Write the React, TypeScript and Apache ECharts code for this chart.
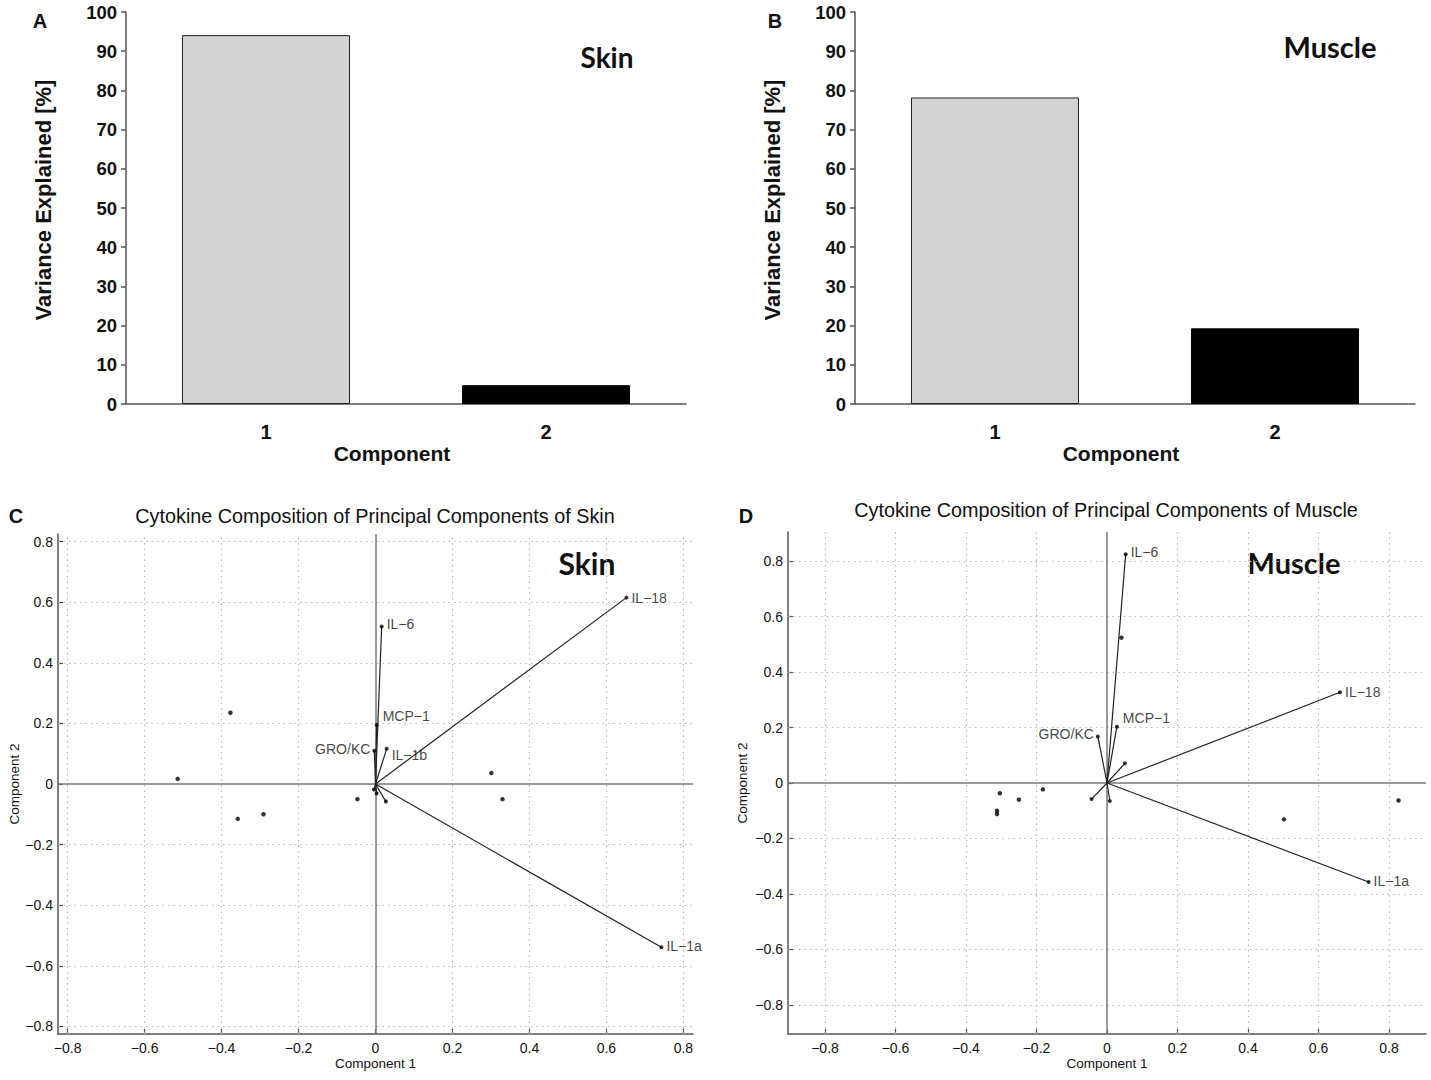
import React, { useEffect, useRef } from "react";
import * as echarts from "echarts";

const components = ["1", "2"];
const skinVariance = [94.1, 4.8];
const muscleVariance = [78.2, 19.3];

const biplotTicks = [-0.8, -0.6, -0.4, -0.2, 0, 0.2, 0.4, 0.6, 0.8];

const skinLoadingNames = ["IL-18", "IL-1a", "IL-6", "MCP-1", "GRO/KC", "IL-1b", "", "", ""];
const skinLoadingX = [0.652, 0.743, 0.016, 0.003, -0.003, 0.029, 0.003, 0.027, -0.004];
const skinLoadingY = [0.615, -0.539, 0.52, 0.195, 0.11, 0.116, -0.031, -0.058, -0.018];
const skinScoreX = [-0.377, -0.514, -0.358, -0.291, -0.047, 0.301, 0.33];
const skinScoreY = [0.235, 0.017, -0.115, -0.1, -0.05, 0.036, -0.05];

const muscleLoadingNames = ["IL-6", "MCP-1", "GRO/KC", "IL-18", "IL-1a", "", "", ""];
const muscleLoadingX = [0.053, 0.028, -0.026, 0.661, 0.742, 0.051, -0.044, 0.008];
const muscleLoadingY = [0.825, 0.203, 0.168, 0.327, -0.357, 0.071, -0.058, -0.065];
const muscleScoreX = [0.041, 0.502, 0.827, -0.304, -0.25, -0.312, -0.312, -0.182];
const muscleScoreY = [0.524, -0.131, -0.063, -0.037, -0.06, -0.1, -0.112, -0.023];

const SANS = "Liberation Sans, Arial, Helvetica, sans-serif";
const CAL = "Lato, 'Open Sans', sans-serif";
const AXIS_COLOR = "#555";

const fmtTick = (v: number) => {
  if (Math.abs(v) < 1e-9) return "0";
  const s = Math.abs(v).toFixed(1);
  return v < 0 ? "\u2212" + s : s;
};

const labelCfg: Record<string, any> = {
  "IL-18": { position: "right", offset: [0, 0] },
  "IL-1a": { position: "right", offset: [0, -1] },
  "IL-6": { position: "right", offset: [0, -2] },
  "MCP-1": { position: "right", offset: [1, -9] },
  "GRO/KC": { position: "left", offset: [1, -2] },
  "IL-1b": { position: "right", offset: [0, 6] },
};

function barAxes(gridIndex: number) {
  const x = {
    type: "category",
    gridIndex,
    data: components,
    name: "Component",
    nameLocation: "middle",
    nameGap: 29,
    nameTextStyle: { fontFamily: SANS, fontWeight: "bold", fontSize: 21, color: "#111", padding: [0, 28, 0, 0] },
    axisLine: { show: true, lineStyle: { color: AXIS_COLOR, width: 1.5 } },
    axisTick: { show: false },
    axisLabel: { fontFamily: SANS, fontWeight: "bold", fontSize: 20, color: "#111", margin: 18 },
    splitLine: { show: false },
  };
  const y = {
    type: "value",
    gridIndex,
    min: 0,
    max: 100,
    interval: 10,
    name: "Variance Explained [%]",
    nameLocation: "middle",
    nameGap: 72,
    nameRotate: 90,
    nameTextStyle: { fontFamily: SANS, fontWeight: "bold", fontSize: 22, color: "#111", padding: [0, 0, 0, 16] },
    axisLine: { show: true, lineStyle: { color: AXIS_COLOR, width: 1.5 } },
    axisTick: { show: true, inside: false, length: 5, lineStyle: { color: AXIS_COLOR, width: 1.5 } },
    axisLabel: { fontFamily: SANS, fontWeight: "bold", fontSize: 18.5, color: "#111", margin: 9 },
    splitLine: { show: false },
  };
  return { x, y };
}

function biAxes(gridIndex: number, range: number, yGap: number) {
  const common = {
    type: "value",
    gridIndex,
    min: -range,
    max: range,
    nameLocation: "middle",
    nameTextStyle: { fontFamily: SANS, fontSize: 13.5, color: "#111" },
    axisLine: { show: true, onZero: false, lineStyle: { color: AXIS_COLOR, width: 1.5 } },
    axisTick: { show: true, inside: true, length: 5, customValues: biplotTicks, lineStyle: { color: AXIS_COLOR, width: 1.2 } },
    axisLabel: {
      customValues: biplotTicks,
      formatter: (v: number) => fmtTick(v),
      fontFamily: SANS,
      fontSize: 14,
      color: "#111",
    },
    splitLine: { show: false },
  };
  const x = { ...common, name: "Component 1", nameGap: 22, axisLabel: { ...common.axisLabel, margin: 7 } };
  const y = { ...common, name: "Component 2", nameGap: yGap, nameRotate: 90, axisLabel: { ...common.axisLabel, margin: 5 } };
  return { x, y };
}

function biSeries(
  idx: number,
  names: string[],
  lx: number[],
  ly: number[],
  sx: number[],
  sy: number[]
) {
  const gridLines = [
    ...biplotTicks.filter((v) => Math.abs(v) > 1e-9).map((v) => ({ xAxis: v })),
    ...biplotTicks.filter((v) => Math.abs(v) > 1e-9).map((v) => ({ yAxis: v })),
  ];
  return [
    {
      type: "scatter",
      xAxisIndex: idx,
      yAxisIndex: idx,
      data: [],
      z: 1,
      silent: true,
      markLine: {
        silent: true,
        symbol: ["none", "none"],
        label: { show: false },
        lineStyle: { color: "#b5b5b5", type: [1.5, 4], width: 1.2 },
        data: gridLines,
        z: 1,
      },
    },
    {
      type: "scatter",
      xAxisIndex: idx,
      yAxisIndex: idx,
      data: [],
      z: 2,
      silent: true,
      markLine: {
        silent: true,
        symbol: ["none", "none"],
        label: { show: false },
        lineStyle: { color: "#777", type: "solid", width: 1.5 },
        data: [{ xAxis: 0 }, { yAxis: 0 }],
        z: 2,
      },
    },
    {
      type: "lines",
      coordinateSystem: "cartesian2d",
      xAxisIndex: idx,
      yAxisIndex: idx,
      z: 3,
      silent: true,
      lineStyle: { color: "#222", width: 1.2, opacity: 1 },
      data: lx.map((x, i) => ({ coords: [[0, 0], [x, ly[i]]] })),
    },
    {
      type: "scatter",
      xAxisIndex: idx,
      yAxisIndex: idx,
      z: 4,
      symbolSize: 4,
      itemStyle: { color: "#000" },
      data: lx.map((x, i) => {
        const n = names[i];
        const cfg = labelCfg[n];
        return {
          name: n,
          value: [x, ly[i]],
          label: n
            ? {
                show: true,
                formatter: n.replace("-", "\u2212"),
                position: cfg.position,
                offset: cfg.offset,
                distance: 3,
                fontFamily: SANS,
                fontSize: 14,
                color: "#111",
              }
            : { show: false },
        };
      }),
    },
    {
      type: "scatter",
      xAxisIndex: idx,
      yAxisIndex: idx,
      z: 4,
      symbolSize: 4.5,
      itemStyle: { color: "#000" },
      data: sx.map((x, i) => [x, sy[i]]),
    },
  ];
}

export default function App() {
  const ref = useRef<HTMLDivElement>(null);
  useEffect(() => {
    document.body.style.margin = "0";
    if (!ref.current) return;
    const chart = echarts.init(ref.current, undefined, { renderer: "svg" });
    const a = barAxes(0);
    const b = barAxes(1);
    const c = biAxes(2, 0.825, 37);
    const d = biAxes(3, 0.905, 39);

    const barSeries = (idx: number, vals: number[]) => ({
      type: "bar",
      xAxisIndex: idx,
      yAxisIndex: idx,
      barWidth: "60%",
      data: vals.map((v, i) => ({
        value: v,
        itemStyle:
          i === 0
            ? { color: "#d3d3d3", borderColor: "#222", borderWidth: 1 }
            : { color: "#000", borderColor: "#000", borderWidth: 1 },
      })),
    });

    const txt = (x: number, y: number, text: string, font: string, align = "center") => ({
      type: "text",
      x,
      y,
      silent: true,
      style: { text, font, fill: "#111", textAlign: align, textVerticalAlign: "middle" },
    });

    chart.setOption({
      animation: false,
      backgroundColor: "#fff",
      grid: [
        { left: 126, top: 12, width: 560, height: 392 },
        { left: 855, top: 12, width: 560, height: 392 },
        { left: 58, top: 534, width: 635, height: 500 },
        { left: 788, top: 532, width: 638, height: 502 },
      ],
      xAxis: [a.x, b.x, c.x, d.x],
      yAxis: [a.y, b.y, c.y, d.y],
      series: [
        barSeries(0, skinVariance),
        barSeries(1, muscleVariance),
        ...biSeries(2, skinLoadingNames, skinLoadingX, skinLoadingY, skinScoreX, skinScoreY),
        ...biSeries(3, muscleLoadingNames, muscleLoadingX, muscleLoadingY, muscleScoreX, muscleScoreY),
      ],
      graphic: [
        txt(40, 21, "A", `bold 20px ${SANS}`),
        txt(775, 21, "B", `bold 20px ${SANS}`),
        txt(16, 516, "C", `bold 20px ${SANS}`),
        txt(746, 516, "D", `bold 20px ${SANS}`),
        txt(607, 57, "Skin", `bold 28px ${CAL}`),
        txt(1330, 46, "Muscle", `bold 29px ${CAL}`),
        txt(587, 563, "Skin", `bold 30px ${CAL}`),
        txt(1294, 562, "Muscle", `bold 29px ${CAL}`),
        txt(375, 516, "Cytokine Composition of Principal Components of Skin", `19.8px ${SANS}`),
        txt(1106, 510, "Cytokine Composition of Principal Components of Muscle", `19.8px ${SANS}`),
      ],
    });
    return () => chart.dispose();
  }, []);
  return (
    <div
      ref={ref}
      style={{ position: "absolute", left: 0, top: 0, width: 1431, height: 1080, background: "#fff" }}
    />
  );
}
